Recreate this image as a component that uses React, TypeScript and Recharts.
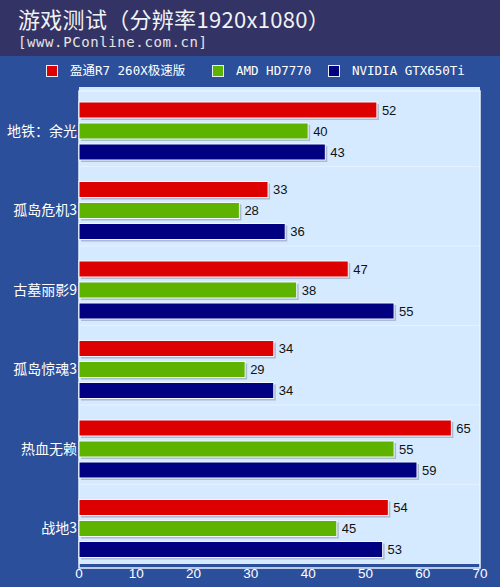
import { Bar, BarChart, CartesianGrid, LabelList, ReferenceArea, XAxis, YAxis } from "recharts";

const categories = ["地铁：余光", "孤岛危机3", "古墓丽影9", "孤岛惊魂3", "热血无赖", "战地3"];
const r7Values = [52, 33, 47, 34, 65, 54];
const hd7770Values = [40, 28, 38, 29, 55, 45];
const gtx650Values = [43, 36, 55, 34, 59, 53];
const seriesNames = ["盈通R7 260X极速版", "AMD HD7770", "NVIDIA GTX650Ti"];
const seriesColors = ["#DD0000", "#5DB300", "#000080"];
const xTicks = [0, 10, 20, 30, 40, 50, 60, 70];

const data = categories.map((name, i) => ({
  name,
  r7: r7Values[i],
  hd: hd7770Values[i],
  gtx: gtx650Values[i],
}));

const legendX = [46, 212, 328];

function ShadowBar(props: any) {
  const { x, y, width, height, fill } = props;
  if (!width || width <= 0) return null;
  return (
    <g>
      <rect x={x + 2} y={y + 2} width={width} height={height} fill="#8E9AAE" opacity={0.6} />
      <rect x={x} y={y} width={width} height={height} fill={fill} stroke="#F2F7FF" strokeWidth={1} />
    </g>
  );
}

const labelStyle = { fill: "#111", fontSize: 13, fontFamily: "Liberation Sans, Arial, sans-serif" };

export default function App() {
  return (
    <div
      style={{
        position: "absolute",
        left: 0,
        top: 0,
        width: 500,
        height: 587,
        background: "#2B4F9B",
        overflow: "hidden",
      }}
    >
      <div style={{ position: "absolute", left: 0, top: 0, width: 500, height: 56, background: "#333366" }}>
        <div
          style={{
            position: "absolute",
            left: 18,
            top: 5.5,
            color: "#F2F2F2",
            fontSize: 22,
            lineHeight: "24px",
            letterSpacing: 0.3,
            fontFamily: '"Noto Sans CJK SC", sans-serif',
            whiteSpace: "nowrap",
          }}
        >
          游戏测试（分辨率1920x1080）
        </div>
        <div
          style={{
            position: "absolute",
            left: 18,
            top: 35,
            color: "#E4E4E4",
            fontSize: 14,
            lineHeight: "14px",
            letterSpacing: 0.6,
            fontFamily: '"DejaVu Sans Mono", monospace',
            whiteSpace: "nowrap",
          }}
        >
          [www.PConline.com.cn]
        </div>
      </div>

      {seriesNames.map((name, i) => (
        <div key={name}>
          <div
            style={{
              position: "absolute",
              left: legendX[i],
              top: 65,
              width: 10,
              height: 10,
              background: seriesColors[i],
              border: "1px solid #E8EEF8",
            }}
          />
          <div
            style={{
              position: "absolute",
              left: legendX[i] + 24,
              top: 62,
              color: "#FFFFFF",
              fontSize: 12.5,
              lineHeight: "18px",
              fontFamily: '"DejaVu Sans Mono", "Noto Sans CJK SC", monospace',
              whiteSpace: "nowrap",
            }}
          >
            {name}
          </div>
        </div>
      ))}

      <div style={{ position: "absolute", left: 0, top: 0 }}>
        <BarChart
          width={500}
          height={587}
          data={data}
          layout="vertical"
          margin={{ top: 87, right: 20, bottom: 0, left: 0 }}
          barSize={16}
          barGap={5}
        >
          <CartesianGrid
            vertical={false}
            fill="#D6EAFF"
            stroke="#E6F1FF"
            horizontalCoordinatesGenerator={({ offset }: any) =>
              [1, 2, 3, 4, 5].map((i) => offset.top + (i * offset.height) / categories.length)
            }
          />
          <XAxis
            type="number"
            domain={[0, 70]}
            ticks={xTicks}
            height={23}
            axisLine={false}
            tickLine={false}
            tickSize={0}
            tickMargin={4}
            interval={0}
            tick={{ fill: "#FFFFFF", fontSize: 13.5, fontFamily: "Liberation Sans, Arial, sans-serif" }}
          />
          <YAxis
            type="category"
            dataKey="name"
            width={79}
            axisLine={false}
            tickLine={false}
            tickSize={0}
            tickMargin={2}
            padding={{ top: 4, bottom: -4 }}
            tick={{ fill: "#FFFFFF", fontSize: 14, fontFamily: '"Noto Sans CJK SC", sans-serif' }}
          />
          <ReferenceArea x1={0} x2={70} fill="none" stroke="#EAF3FF" strokeWidth={1.5} ifOverflow="visible" />
          <Bar dataKey="r7" fill={seriesColors[0]} shape={<ShadowBar />} isAnimationActive={false}>
            <LabelList dataKey="r7" position="right" offset={5} style={labelStyle} />
          </Bar>
          <Bar dataKey="hd" fill={seriesColors[1]} shape={<ShadowBar />} isAnimationActive={false}>
            <LabelList dataKey="hd" position="right" offset={5} style={labelStyle} />
          </Bar>
          <Bar dataKey="gtx" fill={seriesColors[2]} shape={<ShadowBar />} isAnimationActive={false}>
            <LabelList dataKey="gtx" position="right" offset={5} style={labelStyle} />
          </Bar>
        </BarChart>
      </div>
    </div>
  );
}
